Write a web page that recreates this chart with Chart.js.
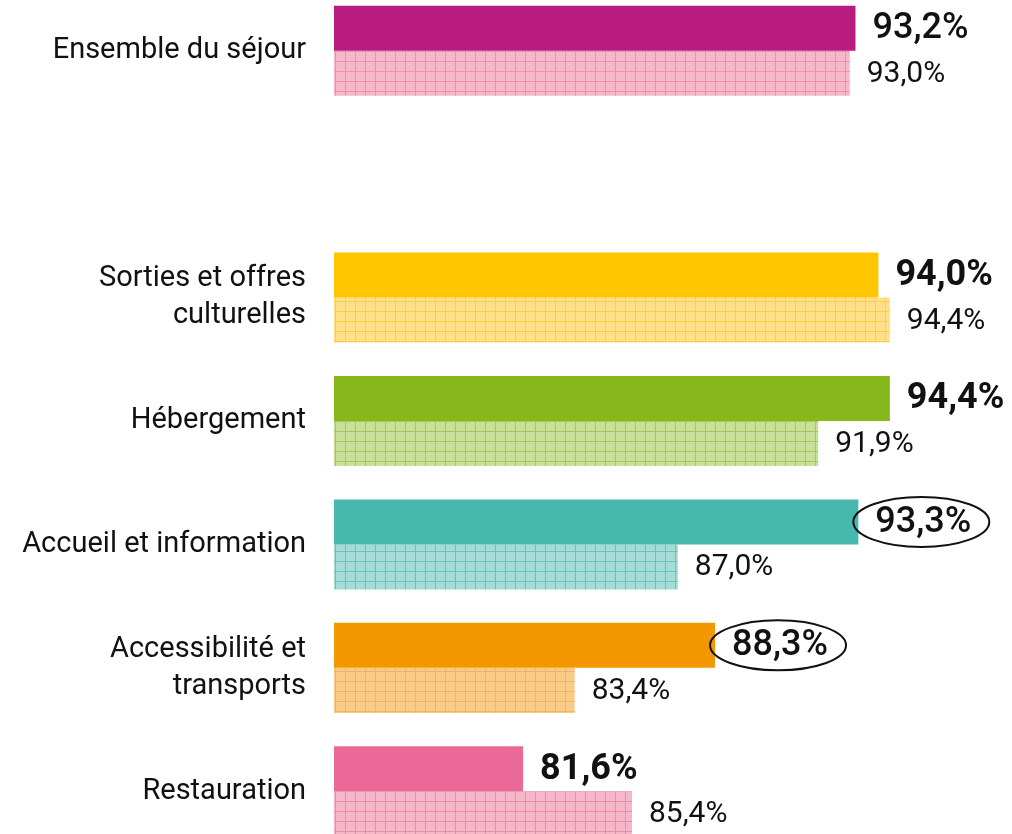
<!DOCTYPE html>
<html>
<head>
<meta charset="utf-8">
<script src="https://cdn.jsdelivr.net/npm/chart.js@4.4.1/dist/chart.umd.min.js"></script>
<style>
  html, body { margin: 0; padding: 0; background: #fff; overflow: hidden; }
  #wrap { position: absolute; left: 0; top: -11px; width: 1012px; height: 864px; }
</style>
</head>
<body>
<div id="wrap"><canvas id="barChart"></canvas></div>
<script>
const categories = [
    'Ensemble du séjour',
    '',
    ['Sorties et offres', 'culturelles'],
    'Hébergement',
    'Accueil et information',
    ['Accessibilité et', 'transports'],
    'Restauration'
];
const valuesCurrent = [93.2, null, 94.0, 94.4, 93.3, 88.3, 81.6];
const valuesPrevious = [93.0, null, 94.4, 91.9, 87.0, 83.4, 85.4];

// palette
const solidColors = ['#b91c7e', '#ffffff', '#ffc600', '#86b81c', '#46b8ad', '#f39800', '#ea6996'];
const hatchBack = ['#f7bacd', '#ffffff', '#ffe08c', '#c9e19c', '#a9ddd8', '#f9cc8a', '#f6b9cc'];
const hatchLine = ['#f08fb0', '#ffffff', '#ffcf40', '#a5c955', '#68c4b9', '#f6b35a', '#ee8cae'];

const strongIdx = [2, 3, 6];
const circledIdx = [4, 5];

function fmt(v) {
    return v.toFixed(1).replace('.', ',') + '%';
}

function makeHatch(back, line) {
    const tile = document.createElement('canvas');
    tile.width = 10;
    tile.height = 10;
    const t = tile.getContext('2d');
    t.fillStyle = back;
    t.fillRect(0, 0, 10, 10);
    t.globalAlpha = 0.15;
    t.fillStyle = line;
    for (let y = 0; y < 10; y += 2) {
        for (let x = (y / 2) % 2; x < 10; x += 2) {
            t.fillRect(x, y, 1, 1);
        }
    }
    t.globalAlpha = 1;
    t.fillStyle = line;
    t.fillRect(0, 0, 10, 1);
    t.fillRect(0, 0, 1, 10);
    const p = t.createPattern(tile, 'repeat');
    p.setTransform(new DOMMatrix().translate(5, 2));
    return p;
}

const valueLabels = {
    id: 'valueLabels',
    afterDatasetsDraw(chart) {
        const ctx = chart.ctx;
        ctx.save();
        ctx.textBaseline = 'middle';
        ctx.textAlign = 'left';
        ctx.fillStyle = '#111';
        chart.data.datasets.forEach((ds, di) => {
            const meta = chart.getDatasetMeta(di);
            meta.data.forEach((bar, i) => {
                const v = ds.data[i];
                if (v === null) return;
                const txt = fmt(v);
                const tx = bar.x + 17;
                if (di === 0) {
                    ctx.font = (strongIdx.includes(i) ? '700 ' : '500 ') + '36px Roboto';
                } else {
                    ctx.font = '400 30px Roboto';
                }
                ctx.fillText(txt, tx, bar.y + 1);
                if (di === 0 && circledIdx.includes(i)) {
                    const w = ctx.measureText(txt).width;
                    ctx.beginPath();
                    ctx.lineWidth = 2;
                    ctx.strokeStyle = '#111';
                    ctx.ellipse(tx + w / 2 - 2, bar.y, w / 2 + 20, 25, 0, 0, Math.PI * 2);
                    ctx.stroke();
                }
            });
        });
        ctx.restore();
    }
};

function draw() {
    const ctx = document.getElementById('barChart').getContext('2d');
    new Chart(ctx, {
        type: 'bar',
        data: {
            labels: categories,
            datasets: [
                {
                    label: 'current',
                    data: valuesCurrent,
                    backgroundColor: solidColors,
                    categoryPercentage: 0.73,
                    barPercentage: 1.0
                },
                {
                    label: 'previous',
                    data: valuesPrevious,
                    backgroundColor: hatchBack.map((b, i) => makeHatch(b, hatchLine[i])),
                    categoryPercentage: 0.73,
                    barPercentage: 1.0
                }
            ]
        },
        options: {
            indexAxis: 'y',
            responsive: true,
            maintainAspectRatio: false,
            animation: false,
            layout: { padding: { left: 0, right: 19, top: 0, bottom: 0 } },
            plugins: {
                legend: { display: false },
                tooltip: { enabled: false }
            },
            scales: {
                x: {
                    display: false,
                    min: 75,
                    max: 98
                },
                y: {
                    grid: { display: false, drawTicks: false },
                    border: { display: false },
                    ticks: {
                        color: '#111',
                        padding: 28,
                        font: { family: 'Roboto', size: 29, lineHeight: 1.28 }
                    },
                    afterFit(scale) {
                        scale.width = 334;
                        scale.paddingTop = 0;
                        scale.paddingBottom = 0;
                    }
                }
            }
        },
        plugins: [valueLabels]
    });
}

Promise.all([
    document.fonts.load('29px Roboto'),
    document.fonts.load('500 36px Roboto'),
    document.fonts.load('700 36px Roboto')
]).then(draw, draw);
</script>
</body>
</html>
